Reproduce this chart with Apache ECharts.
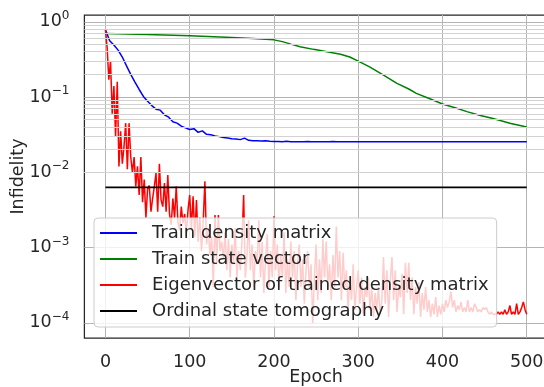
<!DOCTYPE html>
<html>
<head>
<meta charset="utf-8">
<script src="https://cdn.jsdelivr.net/npm/echarts@6/dist/echarts.min.js"></script>
<style>html,body{margin:0;padding:0;background:#fff}#c{width:544px;height:387px}</style>
</head>
<body>
<div id="c"></div>
<script>
// ---- data ----
const xTicks = [0, 100, 200, 300, 400, 500];
const yMajor = [1e-4, 1e-3, 1e-2, 1e-1, 1];
const yMinor = [7e-5, 8e-5, 9e-5,
  2e-4, 3e-4, 4e-4, 5e-4, 6e-4, 7e-4, 8e-4, 9e-4,
  2e-3, 3e-3, 4e-3, 5e-3, 6e-3, 7e-3, 8e-3, 9e-3,
  2e-2, 3e-2, 4e-2, 5e-2, 6e-2, 7e-2, 8e-2, 9e-2,
  0.2, 0.3, 0.4, 0.5, 0.6, 0.7, 0.8, 0.9];

const seriesNames = ['Train density matrix', 'Train state vector',
  'Eigenvector of trained density matrix', 'Ordinal state tomography'];
const seriesColors = ['#0000ff', '#008000', '#ff0000', '#000000'];

// Train density matrix (every 5 epochs)
const blueValues = [
  0.78, 0.56, 0.49, 0.42, 0.34, 0.26, 0.20, 0.158, 0.126, 0.102,
  0.088, 0.077, 0.069, 0.067, 0.058, 0.054, 0.047, 0.045, 0.041, 0.039,
  0.037, 0.038, 0.034, 0.0355, 0.032, 0.0315, 0.0305, 0.0298, 0.029, 0.0285,
  0.028, 0.0278, 0.0272, 0.0285, 0.0266, 0.0263, 0.0262, 0.026, 0.0262, 0.0258,
  0.0257, 0.0256, 0.0255, 0.0258, 0.0255, 0.0254, 0.0255, 0.0254, 0.0256, 0.0254,
  0.0254, 0.0255, 0.0254, 0.0254, 0.0256, 0.0254, 0.0254, 0.0254, 0.0255, 0.0254,
  0.0254, 0.0254, 0.0254, 0.0254, 0.0254, 0.0254, 0.0254, 0.0254, 0.0254, 0.0254,
  0.0254, 0.0254, 0.0254, 0.0254, 0.0254, 0.0254, 0.0254, 0.0254, 0.0254, 0.0254,
  0.0254, 0.0254, 0.0254, 0.0254, 0.0254, 0.0254, 0.0254, 0.0254, 0.0254, 0.0254,
  0.0254, 0.0254, 0.0254, 0.0254, 0.0254, 0.0254, 0.0254, 0.0254, 0.0254, 0.0254,
  0.0254
];
const blueStep = 5;

// Train state vector
const greenEpochs = [0, 50, 100, 150, 175, 200, 210, 220, 231, 247, 263, 279, 290, 300, 314, 330, 346, 360, 369, 385, 400, 415, 429, 445, 460, 480, 500];
const greenValues = [0.70, 0.68, 0.65, 0.62, 0.60, 0.575, 0.545, 0.505, 0.466, 0.43, 0.40, 0.37, 0.34, 0.30, 0.25, 0.196, 0.152, 0.128, 0.112, 0.095, 0.081, 0.072, 0.064, 0.057, 0.052, 0.045, 0.040];

// Eigenvector of trained density matrix (every 2 epochs)
const redValues = [
  0.78, 0.45, 0.17, 0.30, 0.06,
  0.14, 0.03, 0.16, 0.012, 0.035,
  0.013, 0.022, 0.045, 0.011, 0.045,
  0.016, 0.01, 0.016, 0.0065, 0.012,
  0.005, 0.016, 0.004, 0.008, 0.0025,
  0.006, 0.0067, 0.003, 0.0045, 0.0065,
  0.0098, 0.003, 0.013, 0.0043, 0.0035,
  0.0072, 0.003, 0.0092, 0.0028, 0.002,
  0.0045, 0.0025, 0.0065, 0.0022, 0.0017,
  0.0035, 0.0021, 0.0028, 0.0015, 0.0032,
  0.005, 0.0018, 0.0048, 0.0014, 0.0043,
  0.0012, 0.0025, 0.0009, 0.0022, 0.0076,
  0.0011, 0.0018, 0.0008, 0.0014, 0.0003,
  0.0027, 0.0006, 0.0027, 0.0009, 0.0012,
  0.0007, 0.0016, 0.0005, 0.0013, 0.0004,
  0.0011, 0.0006, 0.0018, 0.0004, 0.0009,
  0.0005, 0.0012, 0.005, 0.0004, 0.0008,
  0.0023, 0.0005, 0.0011, 0.0003, 0.0009,
  0.0006, 0.0023, 0.0004, 0.0012, 0.00025,
  0.0007, 0.0015, 0.0003, 0.0009, 0.0004,
  0.0026, 0.0005, 0.0011, 0.0003, 0.0008,
  0.0004, 0.0016, 0.00025, 0.0007, 0.0003,
  0.0012, 0.0004, 0.0009, 0.0002, 0.0006,
  0.0011, 0.0003, 0.0007, 0.00018, 0.0005,
  0.0009, 0.0003, 0.0006, 0.0001, 0.0004,
  0.0011, 0.0002, 0.0007, 0.00025, 0.0013,
  0.0004, 0.0012, 0.0003, 0.0006, 0.0002,
  0.0008, 0.0003, 0.0019, 0.0004, 0.0009,
  0.0002, 0.00086, 0.0003, 0.0005, 0.00015,
  0.0004, 0.0002, 0.0006, 0.00015, 0.0003,
  0.0005, 0.00018, 0.0004, 0.00013, 0.0003,
  0.00022, 0.0004, 0.00015, 0.0003, 0.00012,
  0.00025, 0.00015, 0.0003, 0.00013, 0.0002,
  0.00075, 0.00018, 0.0005, 0.00012, 0.00035,
  0.00075, 0.0002, 0.0005, 0.00014, 0.0003,
  0.00022, 0.00045, 0.00013, 0.00063, 0.00025,
  0.00063, 0.0002, 0.0004, 0.00013, 0.0003,
  0.00018, 0.00035, 0.00012, 0.00025, 0.00015,
  0.0003, 0.00014, 0.0002, 0.00012, 0.00018,
  0.00013, 0.00022, 0.00012, 0.00017, 0.00013,
  0.00018, 0.00014, 0.0002, 0.00016, 0.00019,
  0.00026, 0.00016, 0.0002, 0.00014, 0.00017,
  0.00015, 0.00019, 0.00014, 0.00016, 0.00014,
  0.0002, 0.00014, 0.00016, 0.00014, 0.00018,
  0.00016, 0.00014, 0.00015, 0.00014, 0.00016,
  0.00015, 0.00016, 0.00014, 0.00013, 0.00014,
  0.00013, 0.00013, 0.00013, 0.00014, 0.00013,
  0.00014, 0.00013, 0.00015, 0.00013, 0.00014,
  0.00017, 0.00013, 0.00014, 0.00013, 0.00018,
  0.00013, 0.00014, 0.00016, 0.00019, 0.00015,
  0.00013
];
const redStep = 2;

// Ordinal state tomography
const blackEpochs = [0, 500];
const blackValues = [0.0063, 0.0063];

// ---- chart ----
const FONT = 'DejaVu Sans';
const TXT = '#262626';
const pairs = (xs, ys) => ys.map((v, i) => [xs[i], v]);
const stepPairs = (step, ys) => ys.map((v, i) => [i * step, v]);

function logLabel(v) {
  const e = Math.round(Math.log10(v));
  if (Math.abs(Math.log10(v) - e) > 1e-6) return '';
  const exp = (e < 0 ? '\u2212' + Math.abs(e) : String(e));
  return '{b|10}{s|' + exp + '}';
}

const chart = echarts.init(document.getElementById('c'), null, {renderer: 'canvas'});
chart.setOption({
  animation: false,
  backgroundColor: '#ffffff',
  textStyle: {fontFamily: FONT},
  grid: {left: 84.4, top: 15, width: 463.4, height: 323, show: true,
         outerBoundsMode: 'none', containLabel: false,
         borderColor: '#262626', borderWidth: 1.25, backgroundColor: 'transparent'},
  xAxis: {
    type: 'value', min: -25, max: 525,
    name: 'Epoch', nameLocation: 'middle', nameGap: 30, nameMoveOverlap: false,
    nameTextStyle: {fontSize: 17.5, color: TXT, fontFamily: FONT},
    axisLine: {show: false}, axisTick: {show: false},
    axisLabel: {fontSize: 17.5, color: TXT, margin: 15, fontFamily: FONT,
                showMinLabel: false, showMaxLabel: false,
                formatter: v => (xTicks.indexOf(v) >= 0 ? String(v) : '')},
    splitLine: {show: true, showMinLine: false, showMaxLine: false,
                lineStyle: {color: '#b4b4b4', width: 1}}
  },
  yAxis: {
    type: 'log', logBase: 10, min: 6.3e-5, max: 1.23,
    name: 'Infidelity', nameLocation: 'middle', nameGap: 57, nameRotate: 90, nameMoveOverlap: false,
    nameTextStyle: {fontSize: 17.5, color: TXT, fontFamily: FONT},
    axisLine: {show: false}, axisTick: {show: false},
    axisLabel: {color: TXT, margin: 15, fontFamily: FONT,
                showMinLabel: false, showMaxLabel: false,
                formatter: logLabel,
                rich: {b: {fontSize: 17.5, color: TXT, fontFamily: FONT},
                       s: {fontSize: 12, color: TXT, fontFamily: FONT, padding: [0, 0, 12, 0]}}},
    splitLine: {show: true, showMinLine: false, showMaxLine: false,
                lineStyle: {color: '#b4b4b4', width: 1}}
  },
  legend: {
    data: seriesNames.map(n => ({name: n, icon: 'rect'})),
    orient: 'vertical', left: 94, top: 218,
    itemWidth: 37, itemHeight: 2, itemGap: 6,
    padding: [5, 8, 6, 6],
    backgroundColor: 'rgba(255,255,255,0.8)', borderColor: '#cccccc', borderWidth: 1, borderRadius: 4,
    textStyle: {fontSize: 18, color: TXT, fontFamily: FONT, lineHeight: 20, padding: [0, 0, 0, 10]}
  },
  series: [
    {name: '_grid', type: 'line', data: [], z: 1, silent: true,
     markLine: {silent: true, symbol: ['none', 'none'], label: {show: false}, animation: false,
       lineStyle: {color: '#d2d2d2', type: 'solid', width: 1},
       emphasis: {disabled: true},
       data: yMinor.map(v => ({yAxis: v}))}},
    ...seriesNames.map((n, i) => ({
      name: n, type: 'line', symbol: 'none', z: 2,
      data: [stepPairs(blueStep, blueValues), pairs(greenEpochs, greenValues),
             stepPairs(redStep, redValues), pairs(blackEpochs, blackValues)][i],
      lineStyle: {color: seriesColors[i], width: i === 3 ? 1.8 : 1.5},
      itemStyle: {color: seriesColors[i]}
    }))
  ]
});
</script>
</body>
</html>
